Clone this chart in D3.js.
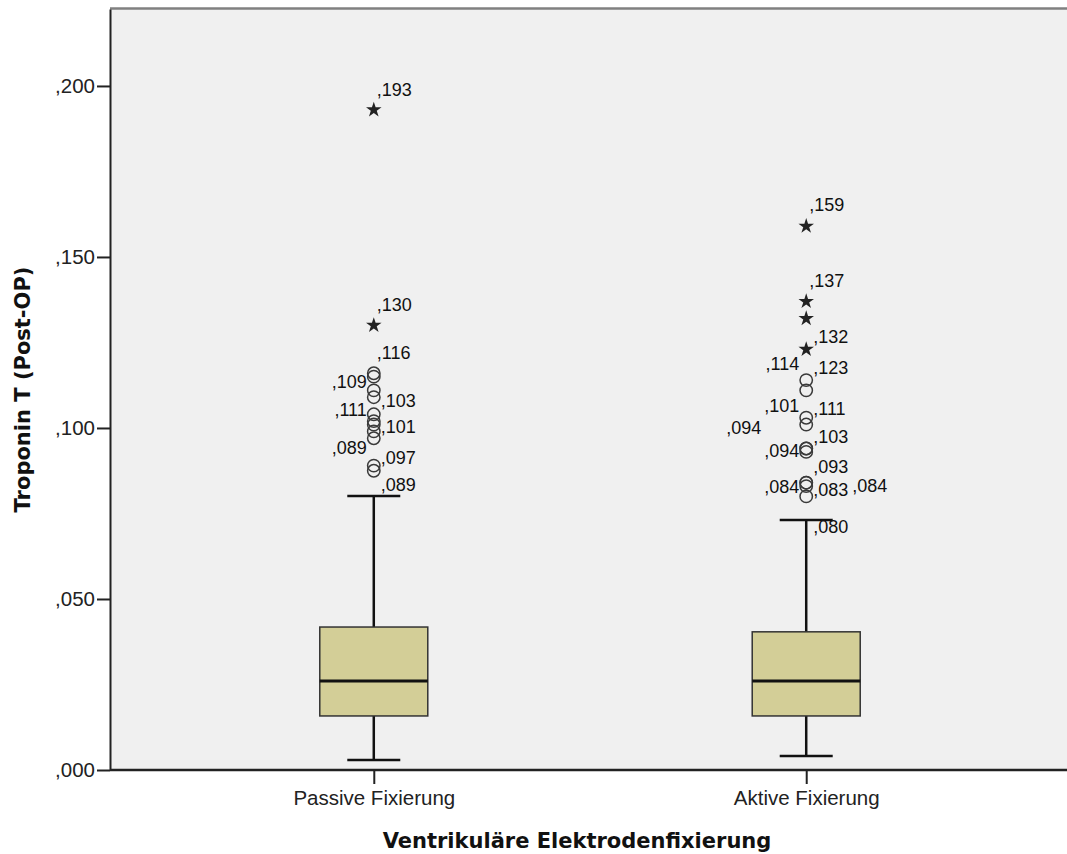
<!DOCTYPE html>
<html><head><meta charset="utf-8">
<script src="https://cdn.jsdelivr.net/npm/d3@7"></script>
<style>body{margin:0;background:#fff}svg{display:block}</style>
</head><body>
<svg id="c" width="1067" height="854"></svg>
<script>
// ---- data ----
const categories = ["Passive Fixierung", "Aktive Fixierung"];
const whiskerLow  = [0.0029, 0.0041];
const q1          = [0.0158, 0.0158];
const median      = [0.0260, 0.0260];
const q3          = [0.0418, 0.0404];
const whiskerHigh = [0.0801, 0.0731];
const circlesPassive = [0.116, 0.115, 0.111, 0.109, 0.104, 0.102, 0.101, 0.099, 0.097, 0.089, 0.0875];
const circlesActive  = [0.114, 0.111, 0.103, 0.101, 0.094, 0.094, 0.093, 0.084, 0.084, 0.083, 0.080];
const starsPassive = [0.193, 0.130];
const starsActive  = [0.159, 0.137, 0.132, 0.123];
// outlier labels: text, value level where label sits, side
const labelsPassive = [
  [",193", 0.1991, "T"], [",130", 0.1360, "T"], [",116", 0.1222, "T"],
  [",109", 0.1135, "L"], [",103", 0.1079, "R"], [",111", 0.1053, "L"],
  [",101", 0.1003, "R"], [",089", 0.0942, "L"], [",097", 0.0915, "R"],
  [",089", 0.0836, "R"]
];
const labelsActive = [
  [",159", 0.1652, "T"], [",137", 0.1430, "T"], [",132", 0.1266, "R"],
  [",114", 0.1187, "L"], [",123", 0.1178, "R"], [",101", 0.1067, "L"],
  [",111", 0.1058, "R"], [",094", 0.1000, "LL"], [",103", 0.0974, "R"],
  [",094", 0.0933, "L"], [",093", 0.0886, "R"], [",084", 0.0830, "L"],
  [",083", 0.0819, "R"], [",084", 0.0833, "RR"], [",080", 0.0713, "R"]
];
const yTicks = [0, 0.05, 0.10, 0.15, 0.20];
const yTickLabels = [",000", ",050", ",100", ",150", ",200"];
const yTitle = "Troponin T (Post-OP)";
const xTitle = "Ventrikuläre Elektrodenfixierung";

// ---- layout ----
const L = 110, T = 9, B = 770, R = 1067;
const svg = d3.select("#c");
const y = d3.scaleLinear().domain([0, 0.2225]).range([B, T]);
const x = d3.scalePoint().domain(categories).range([L, 1070]).padding(0.61);

svg.append("rect").attr("x", L).attr("y", T).attr("width", R - L).attr("height", B - T).attr("fill", "#f0f0f0");
svg.append("line").attr("x1", L).attr("x2", R).attr("y1", T - 0.5).attr("y2", T - 0.5)
  .attr("stroke", "#808080").attr("stroke-width", 2.5);

const font = "'Liberation Sans', Arial, sans-serif";

// boxes
const boxW = 108, capW = 53;
categories.forEach((c, i) => {
  const cx = x(c);
  const g = svg.append("g");
  g.append("line").attr("x1", cx).attr("x2", cx).attr("y1", y(whiskerLow[i])).attr("y2", y(q1[i]))
    .attr("stroke", "#111").attr("stroke-width", 2.5);
  g.append("line").attr("x1", cx).attr("x2", cx).attr("y1", y(q3[i])).attr("y2", y(whiskerHigh[i]))
    .attr("stroke", "#111").attr("stroke-width", 2.5);
  [whiskerLow[i], whiskerHigh[i]].forEach(v => {
    g.append("line").attr("x1", cx - capW / 2).attr("x2", cx + capW / 2).attr("y1", y(v)).attr("y2", y(v))
      .attr("stroke", "#111").attr("stroke-width", 2.5);
  });
  g.append("rect").attr("x", cx - boxW / 2).attr("y", y(q3[i])).attr("width", boxW)
    .attr("height", y(q1[i]) - y(q3[i])).attr("fill", "#d3ce97").attr("stroke", "#333").attr("stroke-width", 1.5);
  g.append("line").attr("x1", cx - boxW / 2).attr("x2", cx + boxW / 2).attr("y1", y(median[i])).attr("y2", y(median[i]))
    .attr("stroke", "#111").attr("stroke-width", 3);
});

function drawOutliers(cat, circles, stars, labels) {
  const cx = x(cat);
  svg.append("g").selectAll("circle").data(circles).join("circle")
    .attr("cx", cx).attr("cy", d => y(d)).attr("r", 6.2)
    .attr("fill", "none").attr("stroke", "#3a3a3a").attr("stroke-width", 1.5);
  svg.append("g").selectAll("path").data(stars).join("path")
    .attr("d", d3.symbol(d3.symbolStar, 75)())
    .attr("transform", d => `translate(${cx},${y(d)})`).attr("fill", "#222");
  const dx = {T: 3, R: 7, L: -7, LL: -45, RR: 46};
  svg.append("g").selectAll("text").data(labels).join("text")
    .attr("x", d => cx + dx[d[2]]).attr("y", d => y(d[1]))
    .attr("dy", "0.36em")
    .attr("text-anchor", d => d[2].startsWith("L") ? "end" : "start")
    .attr("font-family", font).attr("font-size", 18).attr("fill", "#111")
    .text(d => d[0]);
}
drawOutliers(categories[0], circlesPassive, starsPassive, labelsPassive);
drawOutliers(categories[1], circlesActive, starsActive, labelsActive);

// axes
const yAxis = svg.append("g").attr("transform", `translate(${L},0)`)
  .call(d3.axisLeft(y).tickValues(yTicks).tickFormat((d, i) => yTickLabels[i]).tickSize(13).tickPadding(2).tickSizeOuter(0));
yAxis.select(".domain").attr("stroke", "#222").attr("stroke-width", 2);
yAxis.selectAll(".tick line").attr("stroke", "#222").attr("stroke-width", 2);
yAxis.selectAll("text").attr("font-family", font).attr("font-size", 20.5).attr("fill", "#222");

const xAxis = svg.append("g").attr("transform", `translate(0,${B})`)
  .call(d3.axisBottom(x).tickSize(14).tickPadding(6).tickSizeOuter(0));
xAxis.select(".domain").attr("d", `M${L},0H${R}`).attr("stroke", "#222").attr("stroke-width", 2.5);
xAxis.selectAll(".tick line").attr("stroke", "#222").attr("stroke-width", 2);
xAxis.selectAll("text").attr("font-family", font).attr("font-size", 20.5).attr("fill", "#222");

svg.append("text").attr("transform", `translate(30,${(T + B) / 2}) rotate(-90)`)
  .attr("text-anchor", "middle").attr("font-family", "'DejaVu Sans', sans-serif").attr("font-weight", "bold")
  .attr("font-size", 21).attr("fill", "#111").text(yTitle);
svg.append("text").attr("x", 577).attr("y", 848)
  .attr("text-anchor", "middle").attr("font-family", "'DejaVu Sans', sans-serif").attr("font-weight", "bold")
  .attr("font-size", 21).attr("fill", "#111").text(xTitle);
</script>
</body></html>
